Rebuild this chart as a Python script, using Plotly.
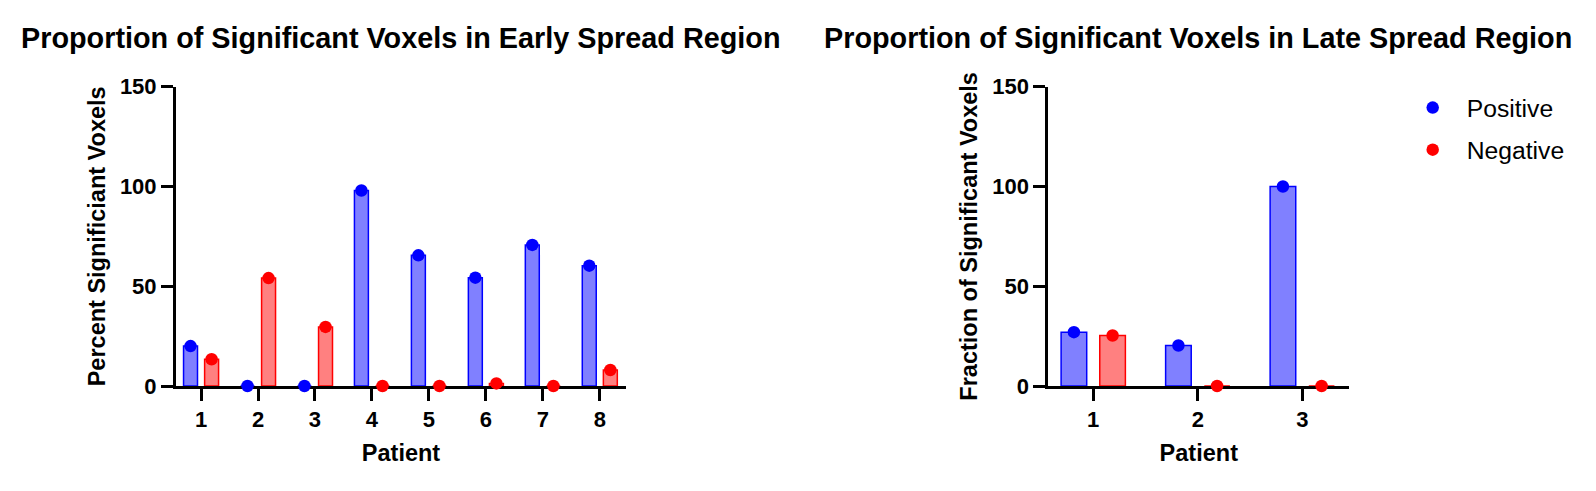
import plotly.graph_objects as go

# ---------------- data ----------------
early_patients = [1, 2, 3, 4, 5, 6, 7, 8]
early_positive = [20.0, 0.0, 0.0, 98.0, 65.5, 54.3, 70.7, 60.3]
early_negative = [13.4, 54.1, 29.6, 0.0, 0.0, 1.3, 0.0, 8.0]

late_patients = [1, 2, 3]
late_positive = [27.0, 20.3, 100.0]
late_negative = [25.3, 0.0, 0.0]

y_ticks = [0, 50, 100, 150]

title_left = "Proportion of Significant Voxels in Early Spread Region"
title_right = "Proportion of Significant Voxels in Late Spread Region"
ylab_left = "Percent Significiant Voxels"
ylab_right = "Fraction of Significant Voxels"
xlab = "Patient"

# ---------------- style ----------------
FONT = "Liberation Sans, Arial, sans-serif"
BLUE = "#0000ff"
RED = "#ff0000"
BLUE_FILL = "#8080ff"
RED_FILL = "#ff8080"
SHIFT = 0.185
BW = 0.245
MS = 12.5

W, H = 1596, 491
PAD = 8  # page body margin compensation


def px_x(v):
    return (v - PAD) / W


def px_y(v):
    return 1 - (v - PAD) / H


fig = go.Figure()


def add_panel(xs, pos, neg, xa, ya, show_legend):
    fig.add_trace(go.Bar(
        x=xs, y=pos, width=BW, offset=-SHIFT - BW / 2,
        marker=dict(color=BLUE_FILL, line=dict(color=BLUE, width=1.5)),
        xaxis=xa, yaxis=ya, showlegend=False, hoverinfo="skip"))
    fig.add_trace(go.Bar(
        x=xs, y=neg, width=BW, offset=SHIFT - BW / 2,
        marker=dict(color=RED_FILL, line=dict(color=RED, width=1.5)),
        xaxis=xa, yaxis=ya, showlegend=False, hoverinfo="skip"))
    fig.add_trace(go.Scatter(
        x=[v - SHIFT for v in xs], y=pos, mode="markers",
        marker=dict(color=BLUE, size=MS), name="Positive",
        legendgroup="pos", cliponaxis=False,
        xaxis=xa, yaxis=ya, showlegend=show_legend))
    fig.add_trace(go.Scatter(
        x=[v + SHIFT for v in xs], y=neg, mode="markers",
        marker=dict(color=RED, size=MS), name="Negative",
        legendgroup="neg", cliponaxis=False,
        xaxis=xa, yaxis=ya, showlegend=show_legend))


add_panel(early_patients, early_positive, early_negative, "x", "y", False)
add_panel(late_patients, late_positive, late_negative, "x2", "y2", True)

ydom = [px_y(386), px_y(86.7)]

axis_common = dict(
    showline=True, linecolor="black", linewidth=3,
    ticks="outside", ticklen=12, tickwidth=3, tickcolor="black",
    showgrid=False, zeroline=False, automargin=False,
    tickfont=dict(family=FONT, size=22, color="black", weight="bold"),
    layer="below traces",
)
title_font = dict(family=FONT, size=23.5, color="black", weight="bold")

fig.update_layout(
    template="none",
    width=W, height=H,
    margin=dict(l=0, r=0, t=0, b=0, autoexpand=False),
    paper_bgcolor="white", plot_bgcolor="white",
    barmode="overlay",
    font=dict(family=FONT, color="black"),
    xaxis=dict(domain=[px_x(176), px_x(626)], range=[0.56, 8.46],
               tickvals=early_patients, anchor="y",
               title=dict(text=xlab, standoff=14, font=title_font),
               **axis_common),
    yaxis=dict(domain=ydom, range=[0, 150], tickvals=y_ticks, anchor="x",
               title=dict(text=ylab_left, standoff=8, font=title_font),
               **axis_common),
    xaxis2=dict(domain=[px_x(1048.3), px_x(1349.3)], range=[0.57, 3.45],
                tickvals=late_patients, anchor="y2",
                title=dict(text=xlab, standoff=14, font=title_font),
                **axis_common),
    yaxis2=dict(domain=ydom, range=[0, 150], tickvals=y_ticks, anchor="x2",
                title=dict(text=ylab_right, standoff=8, font=title_font),
                **axis_common),
    legend=dict(x=px_x(1398.7), y=px_y(85), xanchor="left", yanchor="top",
                font=dict(family=FONT, size=24.7, color="black"),
                itemwidth=58,
                tracegroupgap=7, bgcolor="rgba(0,0,0,0)"),
    annotations=[
        dict(text=title_left, x=px_x(401), y=px_y(37.5), xref="paper", yref="paper",
             xanchor="center", yanchor="middle", showarrow=False,
             font=dict(family=FONT, size=28.8, color="black", weight="bold")),
        dict(text=title_right, x=px_x(1198), y=px_y(37.5), xref="paper", yref="paper",
             xanchor="center", yanchor="middle", showarrow=False,
             font=dict(family=FONT, size=28.8, color="black", weight="bold")),
    ],
)

fig.write_html("out.html")
